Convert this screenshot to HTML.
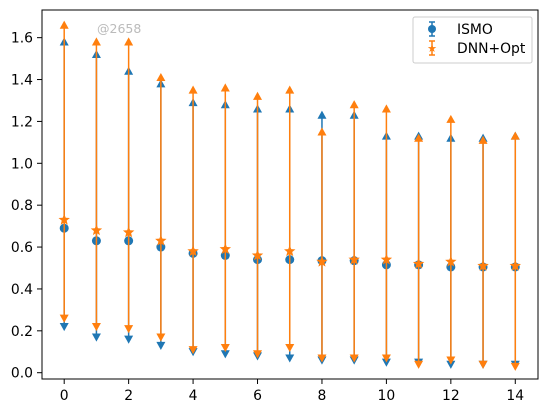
<!DOCTYPE html>
<html><head><meta charset="utf-8"><style>
body{margin:0;background:#fff;}
svg{display:block;font-family:"DejaVu Sans","Liberation Sans",sans-serif;}
</style></head><body>
<svg id="chart" width="547" height="413" viewBox="0 0 547 413">
<rect x="0" y="0" width="547" height="413" fill="#fff"/>
<g id="grid"></g>
<g id="marks"></g>
<rect x="42" y="10" width="496" height="369" fill="none" stroke="#000" stroke-width="1"/>
<g id="axes"></g>
<text x="97" y="33" font-size="12.5" fill="#bbb">@2658</text>
<g>
<rect x="413" y="17" width="119" height="46" rx="2" fill="#fff" fill-opacity="0.8" stroke="#ccc"/>
<g>
<line x1="432" y1="22" x2="432" y2="36" stroke="#1f77b4" stroke-width="1.5"/>
<line x1="429" y1="22" x2="435" y2="22" stroke="#1f77b4" stroke-width="1.5"/>
<line x1="429" y1="36" x2="435" y2="36" stroke="#1f77b4" stroke-width="1.5"/>
<circle cx="432" cy="29" r="4" fill="#1f77b4"/>
<text x="457" y="34" font-size="13.9" fill="#000">ISMO</text>
</g>
<g>
<line x1="432" y1="41" x2="432" y2="55" stroke="#ff7f0e" stroke-width="1.5"/>
<line x1="429" y1="41" x2="435" y2="41" stroke="#ff7f0e" stroke-width="1.5"/>
<line x1="429" y1="55" x2="435" y2="55" stroke="#ff7f0e" stroke-width="1.5"/>
<text x="432" y="52" font-size="11" fill="#ff7f0e" text-anchor="middle">★</text>
<text x="457" y="53" font-size="13.9" fill="#000">DNN+Opt</text>
</g>
</g>
</svg>
<script>
const xs = [0,1,2,3,4,5,6,7,8,9,10,11,12,13,14];
const ismoMid = [0.69,0.63,0.63,0.60,0.57,0.56,0.54,0.54,0.535,0.535,0.515,0.515,0.505,0.505,0.505];
const ismoUp = [1.58,1.52,1.44,1.38,1.29,1.28,1.26,1.26,1.23,1.23,1.13,1.13,1.12,1.12,1.13];
const ismoLo = [0.22,0.17,0.16,0.13,0.10,0.09,0.08,0.07,0.06,0.06,0.05,0.05,0.04,0.04,0.04];
const dnnMid = [0.73,0.68,0.67,0.63,0.58,0.59,0.56,0.58,0.53,0.54,0.54,0.52,0.53,0.51,0.51];
const dnnUp = [1.66,1.58,1.58,1.41,1.35,1.36,1.32,1.35,1.15,1.28,1.26,1.12,1.21,1.11,1.13];
const dnnLo = [0.26,0.22,0.21,0.17,0.11,0.12,0.09,0.12,0.07,0.07,0.07,0.04,0.06,0.04,0.03];
const xTicks = [0,2,4,6,8,10,12,14];
const yTicks = [0.0,0.2,0.4,0.6,0.8,1.0,1.2,1.4,1.6];

const NS = "http://www.w3.org/2000/svg";
const X = v => 64.2 + v * 32.22;
const Y = v => 372.7 - v * 209.4;
function mk(tag, attrs, parent){const e=document.createElementNS(NS,tag);for(const k in attrs)e.setAttribute(k,attrs[k]);parent.appendChild(e);return e;}
const axes = document.getElementById('axes');
const marks = document.getElementById('marks');

xTicks.forEach(t=>{
  const g = mk('g',{},axes);
  
  
  mk('line',{x1:X(t),x2:X(t),y1:379,y2:384,stroke:'#000'},g);
  const tx = mk('text',{x:X(t),y:400,'font-size':13.9,'text-anchor':'middle',fill:'#000'},g);
  tx.textContent = String(t);
});
yTicks.forEach(t=>{
  const g = mk('g',{},axes);
  
  
  mk('line',{x1:37,x2:42,y1:Y(t),y2:Y(t),stroke:'#000'},g);
  const tx = mk('text',{x:33,y:Y(t)+5,'font-size':13.9,'text-anchor':'end',fill:'#000'},g);
  tx.textContent = t.toFixed(1);
});

function tri(g,x,y,up,color){
  const s=4.5;
  const pts = up ? `${x},${y-s} ${x-s},${y+s*0.8} ${x+s},${y+s*0.8}` : `${x},${y+s} ${x-s},${y-s*0.8} ${x+s},${y-s*0.8}`;
  mk('polygon',{points:pts,fill:color},g);
}
function star(g,x,y,color){
  let p=[];for(let i=0;i<10;i++){const r=i%2?2.6:6;const a=-Math.PI/2+i*Math.PI/5;p.push((x+r*Math.cos(a)).toFixed(2)+','+(y+r*Math.sin(a)).toFixed(2));}
  mk('polygon',{points:p.join(' '),fill:color},g);
}
const blue='#1f77b4', orange='#ff7f0e';
xs.forEach((x,i)=>{
  const g = mk('g',{},marks);
  
  
  mk('line',{x1:X(x),x2:X(x),y1:Y(ismoUp[i]),y2:Y(ismoLo[i]),stroke:blue,'stroke-width':1.5},g);
  tri(g,X(x),Y(ismoUp[i]),true,blue);
  tri(g,X(x),Y(ismoLo[i]),false,blue);
  mk('circle',{cx:X(x),cy:Y(ismoMid[i]),r:4.5,fill:blue},g);
});
xs.forEach((x,i)=>{
  const g = mk('g',{},marks);
  
  
  mk('line',{x1:X(x),x2:X(x),y1:Y(dnnUp[i]),y2:Y(dnnLo[i]),stroke:orange,'stroke-width':1.5},g);
  tri(g,X(x),Y(dnnUp[i]),true,orange);
  tri(g,X(x),Y(dnnLo[i]),false,orange);
  star(g,X(x),Y(dnnMid[i]),orange);
});
</script>
</body></html>
